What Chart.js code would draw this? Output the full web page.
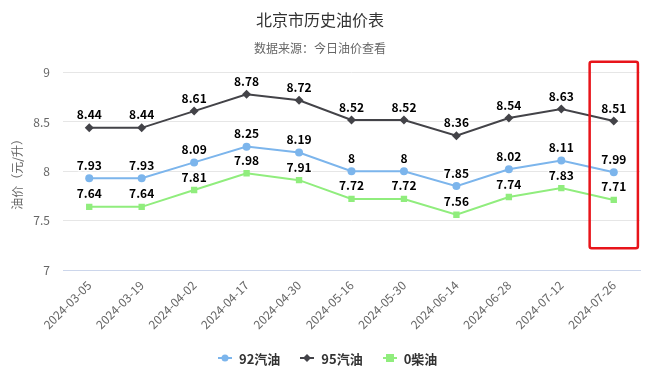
<!DOCTYPE html>
<html><head><meta charset="utf-8">
<script src="https://cdn.jsdelivr.net/npm/chart.js@4/dist/chart.umd.min.js"></script>
<style>
html,body{margin:0;padding:0;background:#fff;}
#wrap{width:652px;height:373px;position:relative;}
#legend{position:absolute;left:218px;top:349px;height:18px;display:flex;align-items:center;font:bold 13px "Noto Sans CJK SC","Noto Sans",sans-serif;color:#333;white-space:nowrap;}
#legend .item{display:flex;align-items:center;margin-right:20px;}
#legend canvas{display:block;margin-right:7px;}
</style>
</head><body><div id="wrap"><canvas id="c" width="652" height="373"></canvas><div id="legend"></div></div>
<script>
const categories = ["2024-03-05","2024-03-19","2024-04-02","2024-04-17","2024-04-30","2024-05-16","2024-05-30","2024-06-14","2024-06-28","2024-07-12","2024-07-26"];
const gas92 = [7.93,7.93,8.09,8.25,8.19,8,8,7.85,8.02,8.11,7.99];
const gas95 = [8.44,8.44,8.61,8.78,8.72,8.52,8.52,8.36,8.54,8.63,8.51];
const diesel0 = [7.64,7.64,7.81,7.98,7.91,7.72,7.72,7.56,7.74,7.83,7.71];
const seriesNames = ["92汽油","95汽油","0柴油"];
const yTicks = [7,7.5,8,8.5,9];

const FONT = '"Noto Sans CJK SC", "Noto Sans", sans-serif';
const colors = ['#7cb5ec','#434348','#90ed7d'];
const styles = ['circle','rectRot','rect'];

function legendIcon(color, style){
  const cv = document.createElement('canvas');
  cv.width = 14; cv.height = 10;
  const g = cv.getContext('2d');
  g.strokeStyle = color; g.lineWidth = 2;
  g.beginPath(); g.moveTo(0,5); g.lineTo(14,5); g.stroke();
  g.fillStyle = color;
  if (style==='circle'){ g.beginPath(); g.arc(7,5,3.5,0,Math.PI*2); g.fill(); }
  else if (style==='rectRot'){ g.beginPath(); g.moveTo(7,1); g.lineTo(11,5); g.lineTo(7,9); g.lineTo(3,5); g.closePath(); g.fill(); }
  else { g.fillRect(3,1,8,8); }
  return cv;
}
const legendEl = document.getElementById('legend');
seriesNames.forEach((n,i)=>{
  const item = document.createElement('div'); item.className='item';
  item.appendChild(legendIcon(colors[i], styles[i]));
  const s = document.createElement('span'); s.textContent = n; item.appendChild(s);
  legendEl.appendChild(item);
});

const labelPlugin = {
  id:'valLabels',
  afterDatasetsDraw(chart){
    const ctx = chart.ctx;
    ctx.save();
    ctx.font = 'bold 12px ' + FONT;
    ctx.textAlign = 'center';
    ctx.textBaseline = 'bottom';
    chart.data.datasets.forEach((ds,di)=>{
      const meta = chart.getDatasetMeta(di);
      meta.data.forEach((pt,i)=>{
        const t = String(ds.data[i]);
        ctx.lineWidth = 3; ctx.strokeStyle = '#fff'; ctx.lineJoin='round';
        ctx.strokeText(t, pt.x, pt.y - 7);
        ctx.fillStyle = '#000';
        ctx.fillText(t, pt.x, pt.y - 7);
      });
    });
    ctx.restore();
  }
};

const boxPlugin = {
  id:'redBox',
  afterDraw(chart){
    const x = chart.scales.x, y = chart.scales.y;
    const cx = x.getPixelForValue(categories.length-1);
    const half = (x.getPixelForValue(1) - x.getPixelForValue(0)) * 0.46;
    const top = y.getPixelForValue(9.11), bot = y.getPixelForValue(7.22);
    const ctx = chart.ctx;
    ctx.save();
    ctx.strokeStyle = '#e8141a'; ctx.lineWidth = 2.5;
    ctx.beginPath();
    if (ctx.roundRect) ctx.roundRect(cx-half, top, half*2, bot-top, 2); else ctx.rect(cx-half, top, half*2, bot-top);
    ctx.stroke();
    ctx.restore();
  }
};

const data = [gas92, gas95, diesel0];
new Chart(document.getElementById('c'), {
  type:'line',
  data:{
    labels: categories,
    datasets: data.map((d,i)=>({
      label: seriesNames[i], data: d,
      borderColor: colors[i], backgroundColor: colors[i],
      borderWidth: 2, pointStyle: styles[i],
      pointRadius: i===0?4:4.5, pointHoverRadius: 5,
      pointBorderWidth: 0, tension: 0, fill:false
    }))
  },
  options:{
    responsive:false, animation:false,
    layout:{padding:{left:0,right:12,top:0,bottom:33}},
    plugins:{
      title:{display:true,text:'北京市历史油价表',color:'#333',font:{family:FONT,size:16,weight:'normal'},padding:{top:10,bottom:10}},
      subtitle:{display:true,text:'数据来源：今日油价查看',color:'#666',font:{family:FONT,size:12,weight:'normal'},padding:{top:2,bottom:17}},
      legend:{display:false},
      tooltip:{enabled:false}
    },
    scales:{
      x:{
        offset:true,
        grid:{display:false, drawTicks:false},
        border:{display:true,color:'#ccd6eb'},
        ticks:{color:'#666',font:{family:FONT,size:12},maxRotation:45,minRotation:45,autoSkip:false,padding:8},
        afterFit(s){ s.height = 70; }
      },
      y:{
        min:7,max:9,
        afterBuildTicks(s){ s.ticks = yTicks.map(v=>({value:v})); },
        grid:{color:'#e6e6e6', drawTicks:false},
        border:{display:false},
        ticks:{color:'#666',font:{family:FONT,size:12},padding:13,callback:(v)=>String(v)},
        title:{display:true,text:'油价（元/升）',color:'#666',font:{family:FONT,size:12},padding:{top:10,bottom:4}},
        afterFit(s){ s.width = 63; }
      }
    }
  },
  plugins:[labelPlugin, boxPlugin]
});
</script></body></html>
